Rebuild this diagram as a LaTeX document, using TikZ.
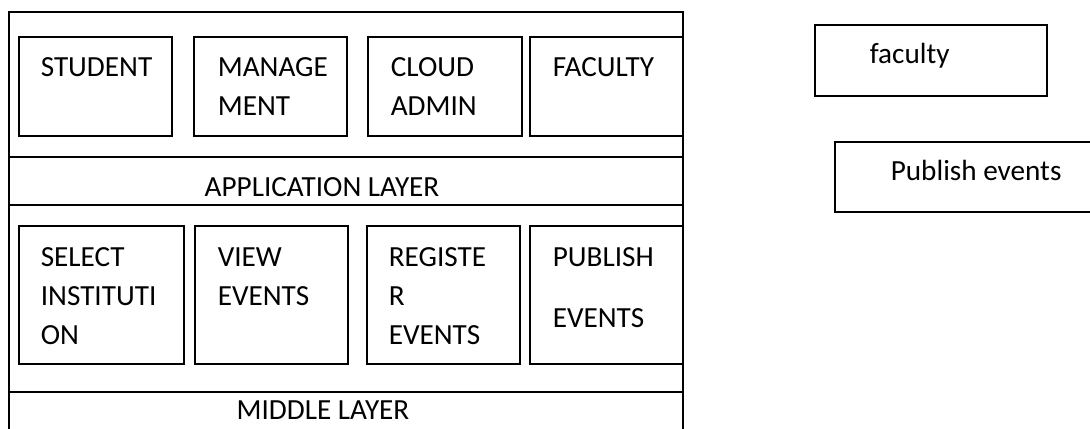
\documentclass[tikz,border=0pt]{standalone}
\usepackage{fontspec}
\setmainfont{Carlito}
\tikzset{
  lbl/.style={inner sep=0pt,anchor=north west,align=left,font=\fontsize{14.6}{19.5}\selectfont},
  layer/.style={inner sep=0pt,anchor=base,font=\fontsize{14.6}{19.5}\selectfont},
}
\begin{document}
\begin{tikzpicture}[x=0.5pt,y=-0.5pt,line width=0.8pt]
  \useasboundingbox (0,0) rectangle (1090,428);
  \clip (0,0) rectangle (1090,428);

  % frame and layer bands
  \draw (9,430) -- (9,12) -- (683,12) -- (683,430);
  \draw (9,157) -- (683,157);
  \draw (9,205) -- (683,205);
  \draw (9,392) -- (683,392);

  % application layer
  \draw (19,37) rectangle (172,136);
  \draw (194,37) rectangle (347,136);
  \draw (368,37) rectangle (522,136);
  \draw (530,37) rectangle (683,136);
  \node[lbl] (student) at (40,57) {STUDENT};
  \node[lbl] (mgmt) at (217,57) {MANAGE\\MENT};
  \node[lbl] (cloud) at (390,57) {CLOUD\\ADMIN};
  \node[lbl] (facul) at (552,57) {FACULTY};
  \node[layer] (applayer) at (322,196) {APPLICATION LAYER};

  % middle layer
  \draw (19,226) rectangle (184,364);
  \draw (195,226) rectangle (348,364);
  \draw (367,226) rectangle (520,364);
  \draw (530,226) rectangle (683,364);
  \node[lbl] (select) at (40,247) {SELECT\\INSTITUTI\\ON};
  \node[lbl] (view) at (217,247) {VIEW\\EVENTS};
  \node[lbl] (register) at (388,247) {REGISTE\\R\\EVENTS};
  \node[lbl] (publish) at (552,247) {PUBLISH\\[11pt]EVENTS};
  \node[layer] (midlayer) at (323,419) {MIDDLE LAYER};

  % side boxes
  \draw (815,25) rectangle (1047,96);
  \node[layer,anchor=base west] (faculty) at (869,63) {faculty};
  \draw (835,142) rectangle (1100,212);
  \node[layer,anchor=base west] (pubev) at (890,180) {Publish events};
\end{tikzpicture}
\end{document}
